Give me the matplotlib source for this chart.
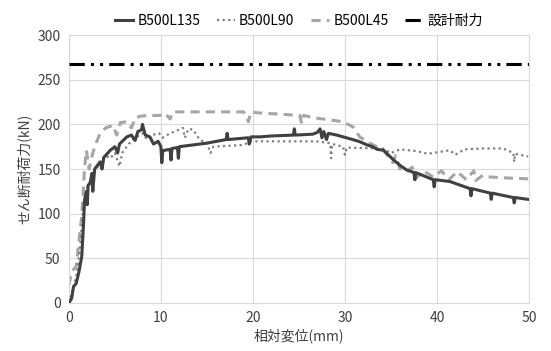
import numpy as np
import matplotlib.pyplot as plt

plt.rcParams['font.family'] = ['Noto Sans CJK JP', 'DejaVu Sans']

# (相対変位 mm, せん断耐荷力 kN)
b500l135 = [
    (0, 0), (0.3, 5), (0.5, 18), (0.8, 22), (1.1, 35), (1.4, 52), (1.6, 90),
    (1.7, 115), (1.9, 125), (2.0, 110), (2.1, 132), (2.3, 134), (2.5, 145),
    (2.6, 125), (2.8, 150), (3.4, 158), (3.6, 150), (3.8, 163), (4.5, 171),
    (5.0, 175), (5.3, 168), (5.5, 178), (6.3, 186), (6.8, 188), (7.2, 182),
    (7.5, 192), (7.9, 194), (8.0, 200), (8.3, 188), (8.8, 186), (9.2, 178),
    (9.7, 181), (10.0, 175), (10.1, 157), (10.2, 170), (10.4, 171),
    (11.0, 172), (11.1, 160), (11.2, 173), (11.8, 174), (11.9, 162),
    (12.0, 175), (13.5, 177), (15.0, 179), (17.1, 183), (17.2, 190),
    (17.3, 183), (19.5, 185), (19.6, 178), (19.8, 186), (20.8, 186),
    (22.0, 187), (24.4, 188), (24.5, 195), (24.6, 188), (26.5, 189),
    (27.0, 191), (27.3, 195), (27.5, 185), (27.7, 192), (28.0, 183),
    (28.2, 190), (29.1, 188), (30.5, 184), (31.5, 181), (32.4, 177),
    (33.0, 175), (33.5, 172), (34.2, 171), (35.3, 160), (36.0, 154),
    (36.7, 149), (37.5, 146), (37.6, 138), (37.7, 146), (39.6, 138),
    (39.7, 130), (39.8, 138), (41.4, 136), (42.5, 132), (43.6, 128),
    (43.7, 120), (43.8, 128), (45.8, 123), (45.9, 116), (46.0, 123),
    (48.3, 118), (48.4, 112), (48.5, 118), (49.9, 116),
]

b500l90 = [
    (0, 0), (0.3, 10), (0.8, 30), (1.2, 60), (1.6, 110), (2.0, 130),
    (2.5, 140), (3.0, 150), (3.5, 160), (4.0, 165), (4.5, 162),
    (5.0, 168), (5.5, 153), (5.8, 168), (6.5, 178), (7.2, 185),
    (8.0, 190), (8.5, 183), (9.0, 188), (9.8, 190), (10.2, 185),
    (11.0, 190), (11.5, 192), (12.4, 196), (12.6, 185), (13.0, 195),
    (13.5, 194), (14.2, 183), (15.0, 179), (15.4, 168), (15.7, 175),
    (19.0, 177), (19.7, 181), (22.0, 181), (24.0, 181), (26.9, 181),
    (28.4, 179), (28.5, 162), (28.6, 178), (29.8, 175), (30.0, 166),
    (30.2, 174), (34.1, 173), (35.0, 168), (36.0, 172), (37.8, 170),
    (39.0, 167), (41.4, 171), (42.0, 166), (43.0, 172), (45.0, 173),
    (47.2, 173), (48.3, 168), (48.4, 158), (48.5, 167), (49.5, 165),
    (49.9, 164),
]

b500l45 = [
    (0, 20), (0.3, 35), (0.8, 41), (1.1, 70), (1.4, 97), (1.7, 150),
    (1.9, 171), (2.2, 150), (2.6, 168), (3.0, 180), (3.4, 190),
    (4.0, 196), (4.8, 199), (5.2, 188), (5.6, 202), (6.3, 203),
    (6.8, 196), (7.2, 207), (7.7, 209), (8.5, 210), (9.9, 210),
    (10.5, 212), (11.0, 206), (11.3, 214), (13.5, 214), (16.0, 214),
    (19.0, 214), (19.5, 203), (19.8, 214), (20.5, 213), (22.0, 212),
    (25.1, 210), (25.3, 201), (25.5, 210), (26.9, 207), (29.8, 203),
    (30.9, 197), (31.6, 186), (32.7, 179), (34.2, 171), (35.2, 157),
    (35.5, 165), (36.0, 150), (36.7, 147), (37.3, 152), (37.8, 140),
    (38.5, 148), (39.6, 141), (40.5, 148), (41.3, 138), (42.2, 147),
    (43.2, 138), (44.0, 148), (44.2, 137), (45.0, 143), (45.8, 141),
    (47.5, 140), (49.9, 139),
]

design_load = 268
x_max = 50

fig, ax = plt.subplots(figsize=(5.51, 3.51), dpi=100)
fig.subplots_adjust(left=0.125, right=0.96, bottom=0.137, top=0.90)

x1, y1 = zip(*b500l135)
x2, y2 = zip(*b500l90)
x3, y3 = zip(*b500l45)

ax.plot(x1, y1, color='#404040', lw=2.2, label='B500L135', zorder=4)
ax.plot(x2, y2, color='#7f7f7f', lw=1.6, ls=(0, (1, 1.5)), label='B500L90', zorder=3)
ax.plot(x3, y3, color='#a6a6a6', lw=2.2, ls=(0, (3, 2)), label='B500L45', zorder=2)
ax.plot([0, x_max], [design_load, design_load], color='black', lw=2.2,
        ls=(0, (5, 2, 1, 2, 1, 2)), label='設計耐力', zorder=5)

ax.set_xlim(0, x_max)
ax.set_ylim(0, 300)
ax.set_xticks(range(0, 51, 10))
ax.set_yticks(range(0, 301, 50))
ax.grid(True, color='#d9d9d9', lw=0.8)
ax.set_axisbelow(True)
for s in ax.spines.values():
    s.set_color('#d9d9d9')
ax.tick_params(length=0, labelsize=10, colors='#404040', pad=6)

ax.set_xlabel('相対変位(mm)', fontsize=10, color='#404040', labelpad=2)
ax.set_ylabel('せん断耐荷力(kN)', fontsize=10, color='#404040', labelpad=4)

ax.legend(loc='lower center', bbox_to_anchor=(0.5, 1.0), ncol=4, frameon=False,
          fontsize=10, handlelength=1.3, columnspacing=1.2, handletextpad=0.3,
          borderaxespad=0.1)

fig.savefig('out.png', dpi=100)
